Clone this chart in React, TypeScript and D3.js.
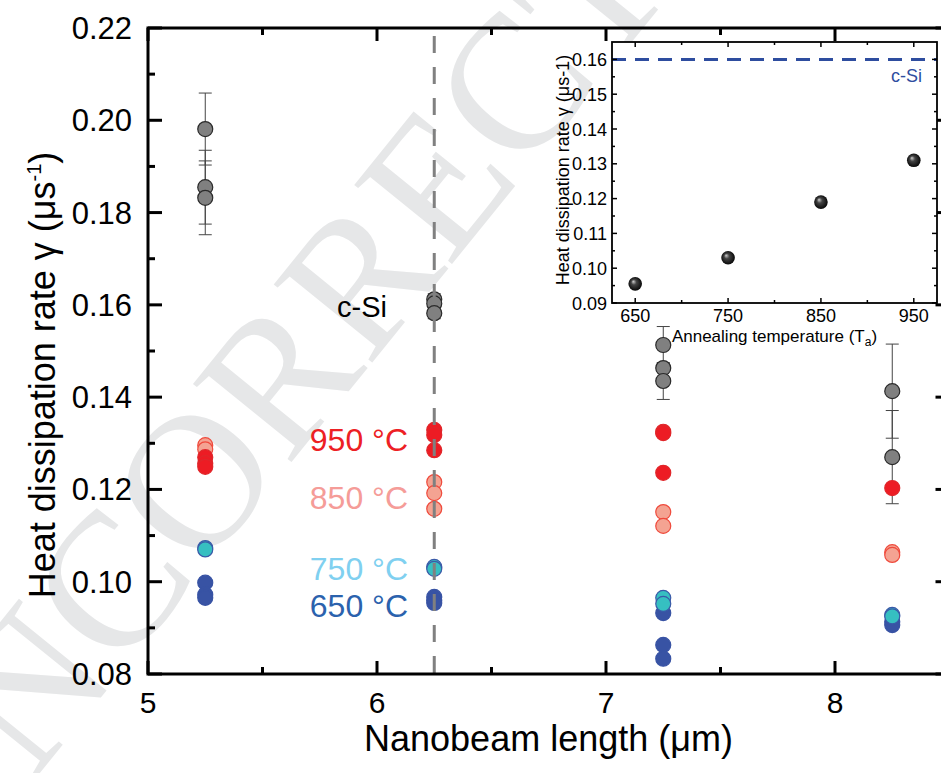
import React from "react";
import * as d3 from "d3";

// main panel data: [length (um), gamma (1/us), error]
const grayPts: number[][] = [
  [5.25, 0.1981, 0.0078],
  [5.25, 0.1855, 0.008],
  [5.25, 0.1832, 0.008],
  [6.25, 0.1612, 0.0012],
  [6.25, 0.1603, 0.0012],
  [6.25, 0.1582, 0.0012],
  [7.25, 0.1513, 0.004],
  [7.25, 0.1463, 0],
  [7.25, 0.1435, 0.004],
  [8.25, 0.1413, 0.0102],
  [8.25, 0.127, 0.0101],
];
const pts850: number[][] = [
  [5.25, 0.1296], [5.25, 0.1287],
  [6.25, 0.1216], [6.25, 0.1192], [6.25, 0.1158],
  [7.25, 0.1151], [7.25, 0.1121],
  [8.25, 0.1064], [8.25, 0.1058],
];
const pts950: number[][] = [
  [5.25, 0.127], [5.25, 0.1257], [5.25, 0.1249],
  [6.25, 0.1329], [6.25, 0.1318], [6.25, 0.1285],
  [7.25, 0.1325], [7.25, 0.1322], [7.25, 0.1236],
  [8.25, 0.1203],
];
const pts650: number[][] = [
  [5.25, 0.0998], [5.25, 0.0972], [5.25, 0.0965],
  [6.25, 0.0967], [6.25, 0.096], [6.25, 0.0954],
  [7.25, 0.0932], [7.25, 0.0863], [7.25, 0.0833],
  [8.25, 0.0913], [8.25, 0.0906],
];
const pts750: number[][] = [
  [5.25, 0.1073], [5.25, 0.107],
  [6.25, 0.1032], [6.25, 0.1028],
  [7.25, 0.0965], [7.25, 0.0952],
  [8.25, 0.0928], [8.25, 0.0925],
];
const cSiLength = 6.25;

const xMajor = [5, 6, 7, 8];
const xMinor = [5.5, 6.5, 7.5];
const yMajor = [0.08, 0.1, 0.12, 0.14, 0.16, 0.18, 0.2, 0.22];
const yMinor = [0.09, 0.11, 0.13, 0.15, 0.17, 0.19, 0.21];

// inset data
const temps = [650, 750, 850, 950];
const gammaMean = [0.0955, 0.103, 0.119, 0.131];
const cSiGamma = 0.16;
const insXMajor = [650, 750, 850, 950];
const insXMinor = [700, 800, 900];
const insYMajor = [0.09, 0.1, 0.11, 0.12, 0.13, 0.14, 0.15, 0.16];
const insYMinor = [0.095, 0.105, 0.115, 0.125, 0.135, 0.145, 0.155];

const labels = [
  { text: "950 °C", y: 0.1307, color: "#ed2024" },
  { text: "850 °C", y: 0.1181, color: "#f59c98" },
  { text: "750 °C", y: 0.1027, color: "#80d0f0" },
  { text: "650 °C", y: 0.0947, color: "#2b62ad" },
];

const font = "'Liberation Sans', Arial, Helvetica, sans-serif";

export default function App() {
  const W = 941, H = 773;
  const x = d3.scaleLinear([5, 8.5], [148, 949.5]);
  const y = d3.scaleLinear([0.08, 0.22], [674, 28]);
  const ix = d3.scaleLinear([625, 975], [612, 937]);
  const iy = d3.scaleLinear([0.09, 0.165], [303, 42]);
  const [x0, x1] = x.range();
  const [y0, y1] = y.range();
  const [ix0, ix1] = ix.range();
  const [iy0, iy1] = iy.range();

  const dots = (data: number[][], fill: string, stroke: string, key: string) =>
    data.map((d, i) => (
      <circle key={key + i} cx={x(d[0])} cy={y(d[1])} r={7.5} fill={fill} stroke={stroke} strokeWidth={1.2} />
    ));

  return (
    <div style={{ position: "absolute", left: 0, top: 0 }}>
      <svg width={W} height={H} style={{ display: "block", background: "#fff" }}>
        <defs>
          <radialGradient id="ball" cx="50%" cy="50%" r="55%" fx="35%" fy="32%">
            <stop offset="0" stopColor="#d0d0d0" />
            <stop offset="0.35" stopColor="#444" />
            <stop offset="1" stopColor="#000" />
          </radialGradient>
        </defs>

        {/* watermark */}
        <text transform="translate(-55,890) rotate(-51)" fontFamily="'Liberation Serif', 'Times New Roman', serif"
          fontSize={192} fill="#e6e7e8">UNCORRECTED PROOF</text>

        {/* error bars */}
        {grayPts.filter(d => d[2] > 0).map((d, i) => (
          <g key={"e" + i} stroke="#444" strokeWidth={1}>
            <line x1={x(d[0])} x2={x(d[0])} y1={y(d[1] + d[2])} y2={y(d[1] - d[2])} />
            <line x1={x(d[0]) - 6.5} x2={x(d[0]) + 6.5} y1={y(d[1] + d[2])} y2={y(d[1] + d[2])} />
            <line x1={x(d[0]) - 6.5} x2={x(d[0]) + 6.5} y1={y(d[1] - d[2])} y2={y(d[1] - d[2])} />
          </g>
        ))}
        {dots(grayPts, "#808080", "#2a2a2a", "g")}
        {dots(pts850, "#f4a392", "#ef4a3c", "s")}
        {dots(pts950, "#ed1c24", "#e0262a", "r")}
        {dots(pts650, "#3853a4", "#3853a4", "b")}
        {dots(pts750, "#36bfc1", "#3a5aa8", "t")}

        {/* c-Si reference line */}
        <line x1={x(cSiLength)} x2={x(cSiLength)} y1={y1} y2={y0} stroke="#808080" strokeWidth={3}
          strokeDasharray="17 14" strokeDashoffset={23} />

        {/* labels */}
        <text x={387} y={317} fontFamily={font} fontSize={29} textAnchor="end" fill="#000">c-Si</text>
        {labels.map(l => (
          <text key={l.text} x={408} y={y(l.y) + 11} fontFamily={font} fontSize={32} textAnchor="end" fill={l.color}>{l.text}</text>
        ))}

        {/* main frame */}
        <rect x={x0} y={y1} width={x1 - x0} height={y0 - y1} fill="none" stroke="#000" strokeWidth={3} />
        <g stroke="#000" strokeWidth={3}>
          {xMajor.map(v => (
            <g key={"xM" + v}>
              <line x1={x(v)} x2={x(v)} y1={y0} y2={y0 - 13} />
              <line x1={x(v)} x2={x(v)} y1={y1} y2={y1 + 13} />
            </g>
          ))}
          {xMinor.map(v => (
            <g key={"xm" + v}>
              <line x1={x(v)} x2={x(v)} y1={y0} y2={y0 - 7} />
              <line x1={x(v)} x2={x(v)} y1={y1} y2={y1 + 7} />
            </g>
          ))}
          {yMajor.map(v => (
            <g key={"yM" + v}>
              <line x1={x0} x2={x0 + 14} y1={y(v)} y2={y(v)} />
              <line x1={x1} x2={x1 - 14} y1={y(v)} y2={y(v)} />
            </g>
          ))}
          {yMinor.map(v => (
            <g key={"ym" + v}>
              <line x1={x0} x2={x0 + 7} y1={y(v)} y2={y(v)} />
              <line x1={x1} x2={x1 - 7} y1={y(v)} y2={y(v)} />
            </g>
          ))}
        </g>
        {xMajor.map(v => (
          <text key={"xl" + v} x={x(v)} y={713} fontFamily={font} fontSize={30} textAnchor="middle">{v}</text>
        ))}
        {yMajor.map(v => (
          <text key={"yl" + v} x={132} y={y(v) + 11} fontFamily={font} fontSize={31} textAnchor="end">{v.toFixed(2)}</text>
        ))}
        <text x={(x0 + 949) / 2} y={751} fontFamily={font} fontSize={36} textAnchor="middle">Nanobeam length (μm)</text>
        <text transform="translate(55,375) rotate(-90)" fontFamily={font} fontSize={36} textAnchor="middle">
          Heat dissipation rate γ (μs<tspan fontSize={20} dy={-14}>-1</tspan><tspan dy={14}>)</tspan>
        </text>

        {/* inset */}
        <rect x={ix0} y={iy1} width={ix1 - ix0} height={iy0 - iy1} fill="#fff" />
        <line x1={ix0} x2={ix1} y1={iy(cSiGamma)} y2={iy(cSiGamma)} stroke="#2e4d9f" strokeWidth={3} strokeDasharray="14 9" />
        <text x={922} y={82} fontFamily={font} fontSize={18} textAnchor="end" fill="#2e4d9f">c-Si</text>
        {temps.map((t, i) => (
          <circle key={"in" + t} cx={ix(t)} cy={iy(gammaMean[i])} r={6.8} fill="url(#ball)" />
        ))}
        <rect x={ix0} y={iy1} width={ix1 - ix0} height={iy0 - iy1} fill="none" stroke="#000" strokeWidth={1.8} />
        <g stroke="#000" strokeWidth={1.5}>
          {insXMajor.map(v => (
            <g key={"ixM" + v}>
              <line x1={ix(v)} x2={ix(v)} y1={iy0} y2={iy0 - 5} />
              <line x1={ix(v)} x2={ix(v)} y1={iy1} y2={iy1 + 5} />
            </g>
          ))}
          {insXMinor.map(v => (
            <g key={"ixm" + v}>
              <line x1={ix(v)} x2={ix(v)} y1={iy0} y2={iy0 - 3} />
              <line x1={ix(v)} x2={ix(v)} y1={iy1} y2={iy1 + 3} />
            </g>
          ))}
          {insYMajor.map(v => (
            <g key={"iyM" + v}>
              <line x1={ix0} x2={ix0 + 5} y1={iy(v)} y2={iy(v)} />
              <line x1={ix1} x2={ix1 - 5} y1={iy(v)} y2={iy(v)} />
            </g>
          ))}
          {insYMinor.map(v => (
            <g key={"iym" + v}>
              <line x1={ix0} x2={ix0 + 3} y1={iy(v)} y2={iy(v)} />
              <line x1={ix1} x2={ix1 - 3} y1={iy(v)} y2={iy(v)} />
            </g>
          ))}
        </g>
        {insXMajor.map(v => (
          <text key={"ixl" + v} x={ix(v)} y={322} fontFamily={font} fontSize={18} textAnchor="middle">{v}</text>
        ))}
        {insYMajor.map(v => (
          <text key={"iyl" + v} x={607} y={iy(v) + 6.5} fontFamily={font} fontSize={18} textAnchor="end">{v.toFixed(2)}</text>
        ))}
        <text x={(ix0 + ix1) / 2} y={342} fontFamily={font} fontSize={17} textAnchor="middle">
          Annealing temperature (T<tspan fontSize={12} dy={4}>a</tspan><tspan dy={-4}>)</tspan>
        </text>
        <text transform="translate(569,170) rotate(-90)" fontFamily={font} fontSize={18} textAnchor="middle">
          Heat dissipation rate γ (μs-1)
        </text>
      </svg>
    </div>
  );
}
